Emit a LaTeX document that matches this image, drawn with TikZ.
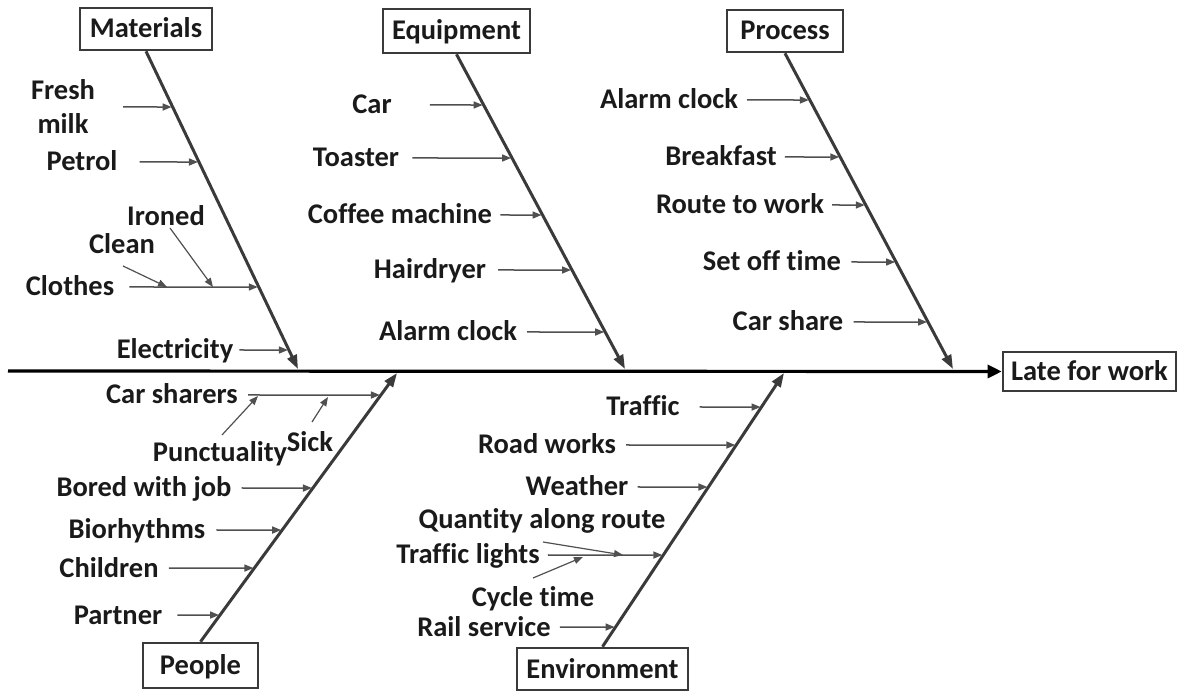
\documentclass[tikz,border=0pt]{standalone}
\usepackage{fontspec}
\setmainfont{Carlito}[RawFeature={-liga}]
\usetikzlibrary{arrows.meta,calc}
\definecolor{bone}{HTML}{3A3A3A}
\definecolor{twigc}{HTML}{505050}
\definecolor{ink}{HTML}{1A1A1A}
\newcommand\fsz{\bfseries\fontsize{28.5}{34}\selectfont}
\newcommand\twig[4]{\draw[twigarrow] (#1.east) ++(#2,0) -- (intersection of #1.east--#1.west and #3--#4);}
\begin{document}
\begin{tikzpicture}[x=1pt,y=-1pt,
  lbl/.style={font=\fsz, text=ink, inner sep=0pt},
  one/.style={lbl, text height=18pt, text depth=0pt},
  cat/.style={draw=bone, line width=2.6pt, font=\fsz, text=ink, inner sep=0pt, text height=18pt, text depth=0pt},
  spine/.style={draw=black, line width=3.2pt, -{Triangle[length=14pt,width=13pt]}},
  bonearrow/.style={draw=bone, line width=3pt, -{Triangle[length=14pt,width=10pt]}},
  twigarrow/.style={draw=twigc, line width=1.5pt, shorten >=1pt, -{Triangle[length=9pt,width=7pt]}},
  diag/.style={draw=twigc, line width=1.2pt, -{Triangle[length=9pt,width=7pt]}}
]
\useasboundingbox (0,0) rectangle (1179,692);
% category boxes
\node[cat, minimum width=132pt, minimum height=42pt] (mat) at (146,29) {Materials};
\node[cat, minimum width=147pt, minimum height=44pt] (equ) at (456.5,31) {Equipment};
\node[cat, minimum width=116pt, minimum height=42pt] (pro) at (785,31) {Process};
\node[cat, minimum width=115pt, minimum height=45pt] (peo) at (200.5,665.5) {People};
\node[cat, minimum width=171pt, minimum height=42pt] (env) at (602.5,669) {Environment};
\node[cat, minimum width=173pt, minimum height=39pt] (late) at (1089.5,371.5) {Late for work};
% spine and bones
\coordinate (tail) at (8,371);
\coordinate (mE) at (298,369);
\coordinate (eE) at (625,369);
\coordinate (pE) at (953,369);
\coordinate (hE) at (397,373);
\coordinate (nE) at (784,373);
\draw[spine] (tail) -- (late.west);
\draw[bonearrow] (mat.south) -- (mE);
\draw[bonearrow] (equ.south) -- (eE);
\draw[bonearrow] (pro.south) -- (pE);
\draw[bonearrow] (peo.north) -- (hE);
\draw[bonearrow] (env.north) -- (nE);
% Materials
\node[lbl, align=center] (fresh) at (63,107) {Fresh\\milk};
\node[one] (petrol) at (82,162) {Petrol};
\node[one] (clothes) at (70,287) {Clothes};
\node[one] (ironed) at (166,217) {Ironed};
\node[one] (clean) at (122,245) {Clean};
\node[one] (elec) at (175,350) {Electricity};
\twig{fresh}{28}{mat.south}{mE}
\twig{petrol}{22}{mat.south}{mE}
\twig{clothes}{15}{mat.south}{mE}
\twig{elec}{6}{mat.south}{mE}
\coordinate (cleanS) at (123,266);
\coordinate (cleanE) at (167,287);
\coordinate (ironS) at (170,228);
\coordinate (ironE) at (213,287);
\draw[diag] (cleanS) -- (cleanE);
\draw[diag] (ironS) -- (ironE);
% Equipment
\node[one] (car) at (372,105) {Car};
\node[one] (toaster) at (356,158) {Toaster};
\node[one] (coffee) at (400,215) {Coffee machine};
\node[one] (hair) at (430,270) {Hairdryer};
\node[one] (alarmE) at (448,332) {Alarm clock};
\twig{car}{38}{equ.south}{eE}
\twig{toaster}{13}{equ.south}{eE}
\twig{coffee}{8}{equ.south}{eE}
\twig{hair}{12}{equ.south}{eE}
\twig{alarmE}{10}{equ.south}{eE}
% Process
\node[one] (alarmP) at (669,100) {Alarm clock};
\node[one] (breakfast) at (721,157) {Breakfast};
\node[one] (route) at (740,205) {Route to work};
\node[one] (setoff) at (772,262) {Set off time};
\node[one] (carshare) at (788,322) {Car share};
\twig{alarmP}{9}{pro.south}{pE}
\twig{breakfast}{8}{pro.south}{pE}
\twig{route}{8}{pro.south}{pE}
\twig{setoff}{10}{pro.south}{pE}
\twig{carshare}{10}{pro.south}{pE}
% People
\node[one] (carsh) at (172,395) {Car sharers};
\node[one] (punct) at (220,453) {Punctuality};
\node[one] (sick) at (310,443) {Sick};
\node[one] (bored) at (144,488) {Bored with job};
\node[one] (bio) at (137,530) {Biorhythms};
\node[one] (child) at (109,568) {Children};
\node[one] (partner) at (118,615) {Partner};
\twig{carsh}{10}{peo.north}{hE}
\twig{bored}{10}{peo.north}{hE}
\twig{bio}{11}{peo.north}{hE}
\twig{child}{10}{peo.north}{hE}
\twig{partner}{15}{peo.north}{hE}
\coordinate (punctS) at (222,435);
\coordinate (punctE) at (258,396);
\coordinate (sickS) at (312,422);
\coordinate (sickE) at (328,397);
\draw[diag] (punctS) -- (punctE);
\draw[diag] (sickS) -- (sickE);
% Environment
\node[one] (traffic) at (643,407) {Traffic};
\node[one] (road) at (547,445) {Road works};
\node[one] (weather) at (577,487) {Weather};
\node[one] (quant) at (542,520) {Quantity along route};
\node[one] (tlights) at (468,555) {Traffic lights};
\node[one] (cycle) at (533,597) {Cycle time};
\node[one] (rail) at (484,627) {Rail service};
\twig{traffic}{20}{env.north}{nE}
\twig{road}{10}{env.north}{nE}
\twig{weather}{9}{env.north}{nE}
\twig{tlights}{8}{env.north}{nE}
\twig{rail}{9}{env.north}{nE}
\coordinate (quantS) at (543,542);
\coordinate (quantE) at (623,555);
\coordinate (cycleS) at (533,578);
\coordinate (cycleE) at (583,557);
\draw[diag] (quantS) -- (quantE);
\draw[diag] (cycleS) -- (cycleE);
\end{tikzpicture}
\end{document}
